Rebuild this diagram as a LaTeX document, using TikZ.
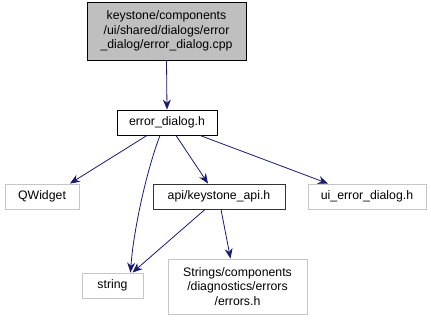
\documentclass[tikz,border=0pt]{standalone}
\usepackage{fontspec}
\setmainfont{Liberation Sans}
\usetikzlibrary{arrows.meta}
\definecolor{edgeblue}{HTML}{191970}
\begin{document}
\begin{tikzpicture}[x=1pt,y=-1pt,
  box/.style={draw=black,line width=0.9pt,inner sep=1pt,font=\fontsize{12.3}{14.5}\selectfont,align=center},
  ext/.style={box,draw=gray!45},
  dep/.style={draw=edgeblue,line width=0.8pt,-{Stealth[length=10pt,width=8pt]}}]
\useasboundingbox (0,0) rectangle (431,320);
\node[box,fill=gray!50,minimum width=159pt,minimum height=58pt] (top) at (166.5,31) {keystone/components\\/ui/shared/dialogs/error\\\_dialog/error\_dialog.cpp};
\node[box,minimum width=100pt,minimum height=25pt] (ed) at (167,122.5) {error\_dialog.h};
\node[ext,minimum width=74pt,minimum height=25pt] (qw) at (42,196.5) {QWidget};
\node[box,draw=black!80,minimum width=132pt,minimum height=25pt] (api) at (219,196.5) {api/keystone\_api.h};
\node[ext,minimum width=118pt,minimum height=25pt] (ui) at (367,196.5) {ui\_error\_dialog.h};
\node[ext,minimum width=61pt,minimum height=25pt] (str) at (112.5,285.5) {string};
\node[ext,minimum width=139pt,minimum height=55pt] (errs) at (237.5,286.5) {Strings/components\\/diagnostics/errors\\/errors.h};
\draw[dep] (top.south) -- (ed.north);
\draw[dep] ([xshift=-20pt]ed.south) -- ([xshift=28pt]qw.north);
\draw[dep] ([xshift=-7pt]ed.south) .. controls (145,175) and (133,235) .. ([xshift=18pt]str.north);
\draw[dep] ([xshift=9pt]ed.south) -- ([xshift=-11pt]api.north);
\draw[dep] ([xshift=33pt]ed.south) -- ([xshift=-39pt]ui.north);
\draw[dep] ([xshift=-14pt]api.south) -- ([xshift=20pt]str.north);
\draw[dep] ([xshift=2pt]api.south) -- ([xshift=-7pt]errs.north);
\end{tikzpicture}
\end{document}
